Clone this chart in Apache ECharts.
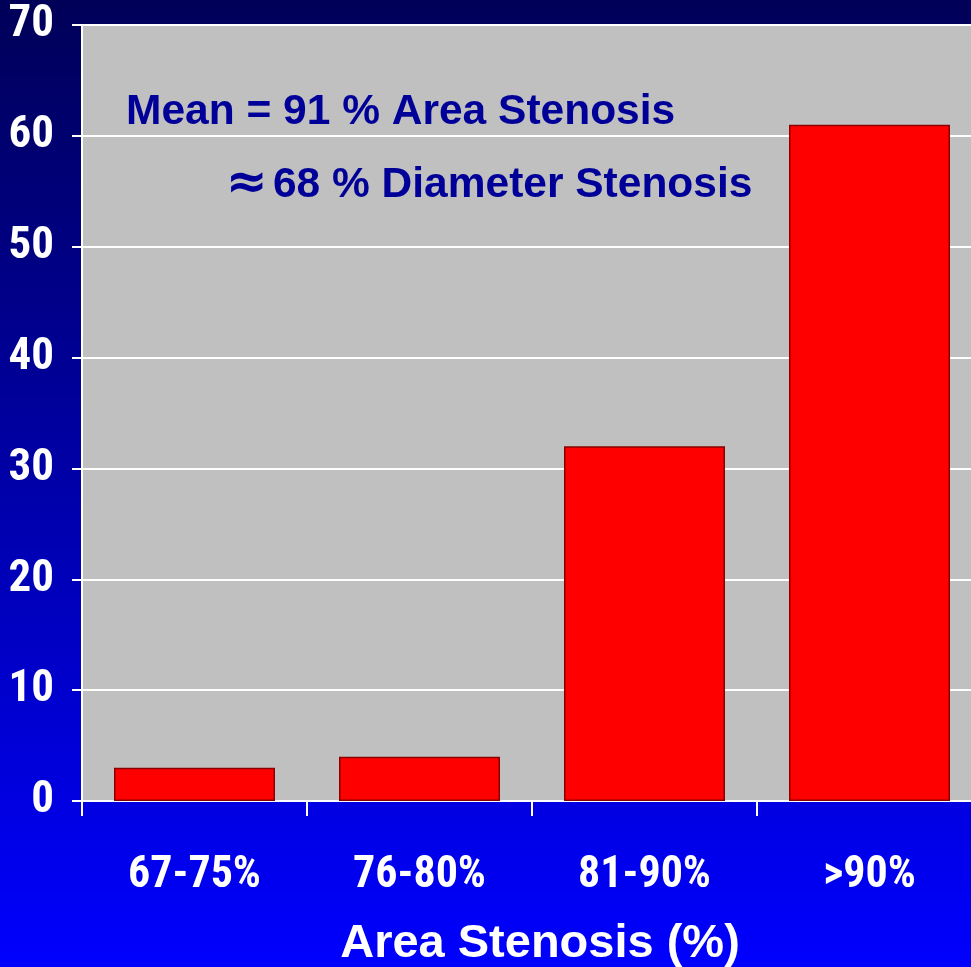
<!DOCTYPE html>
<html>
<head>
<meta charset="utf-8">
<style>
  html, body { margin: 0; padding: 0; width: 971px; height: 967px; overflow: hidden; }
  #chart { width: 971px; height: 967px; }
</style>
<script src="https://cdn.jsdelivr.net/npm/echarts@6/dist/echarts.min.js"></script>
</head>
<body>
<div id="chart"></div>
<script>
// Stenosis groups and their counts
const categories = ['67-75%', '76-80%', '81-90%', '>90%'];
const counts = [3, 4, 32, 61];
const yTicks = { min: 0, max: 70, interval: 10 };
const axisTitle = 'Area Stenosis (%)';
const noteLines = ['Mean = 91 % Area Stenosis', '68 % Diameter Stenosis'];
const approxSign = '\u2248';

const narrow = 'Roboto, "Open Sans", sans-serif';
const wide = '"Liberation Sans", Arial, sans-serif';

const chart = echarts.init(document.getElementById('chart'), null, { renderer: 'canvas' });

chart.setOption({
  animation: false,
  backgroundColor: {
    type: 'linear', x: 0, y: 0, x2: 0, y2: 1,
    colorStops: [
      { offset: 0, color: '#000058' },
      { offset: 0.5, color: '#0000a8' },
      { offset: 1, color: '#0000ff' }
    ]
  },
  grid: {
    left: 82, top: 25, width: 900, height: 776,
    containLabel: false, outerBoundsMode: 'none',
    show: true, backgroundColor: '#c0c0c0', borderWidth: 0
  },
  xAxis: {
    type: 'category',
    data: categories,
    boundaryGap: true,
    axisLine: { show: true, lineStyle: { color: '#ffffff', width: 2 } },
    axisTick: { show: true, alignWithLabel: false, length: 15, lineStyle: { color: '#ffffff', width: 2 } },
    axisLabel: {
      color: '#ffffff', fontFamily: narrow, fontStyle: 'condensed', fontWeight: 'bold',
      fontSize: 44, margin: 53
    },
    name: axisTitle,
    nameLocation: 'middle',
    nameGap: 120,
    nameTextStyle: {
      color: '#ffffff', fontFamily: wide, fontWeight: 'bold', fontSize: 47,
      padding: [0, 0, 0, 16],
      textShadowColor: '#000022', textShadowOffsetX: 3, textShadowOffsetY: 3, textShadowBlur: 0
    }
  },
  yAxis: {
    type: 'value',
    min: yTicks.min, max: yTicks.max, interval: yTicks.interval,
    axisLine: { show: true, lineStyle: { color: '#ffffff', width: 2 } },
    axisTick: { show: true, length: 10, lineStyle: { color: '#ffffff', width: 2 } },
    axisLabel: {
      color: '#ffffff', fontFamily: narrow, fontStyle: 'condensed', fontWeight: 'bold',
      fontSize: 45, margin: 28
    },
    splitLine: { show: true, lineStyle: { color: '#ffffff', width: 2 } }
  },
  series: [{
    type: 'bar',
    data: counts,
    barWidth: 161,
    itemStyle: { color: '#ff0000', borderColor: '#8a0000', borderWidth: 1.5 }
  }],
  graphic: [
    {
      type: 'text', left: 126, top: 91,
      style: { text: noteLines[0], fill: '#000099', font: 'bold 42.5px ' + wide }
    },
    {
      type: 'text', left: 226, top: 160,
      style: {
        text: '{sym|' + approxSign + '}' + noteLines[1],
        fill: '#000099', font: 'bold 42.5px ' + wide,
        rich: {
          sym: { fill: '#000099', font: 'bold 50px "DejaVu Sans", sans-serif', padding: [0, 5, 0, 0] }
        }
      }
    }
  ]
});
</script>
</body>
</html>
